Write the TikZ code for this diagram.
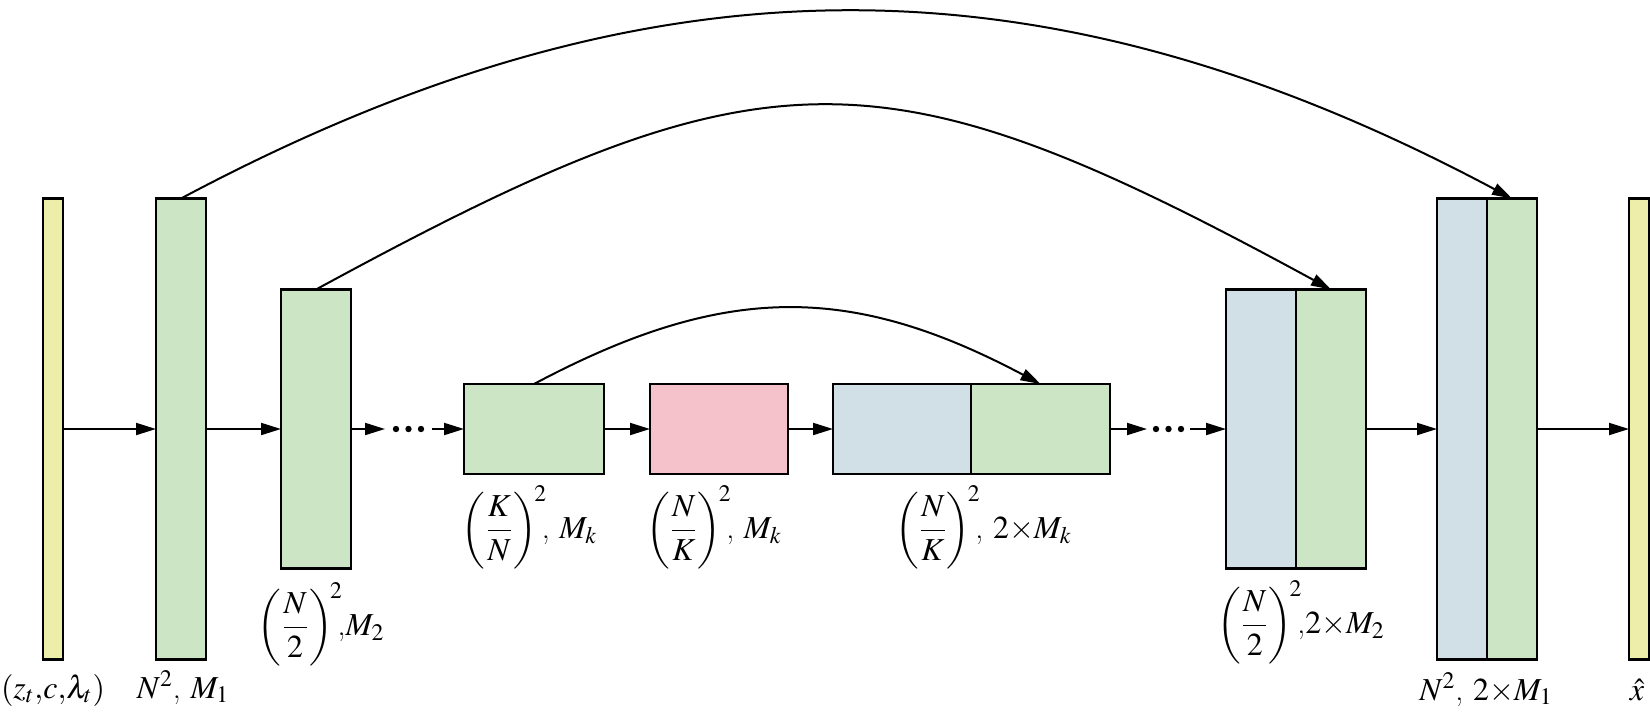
\documentclass[tikz,border=0pt]{standalone}
\usepackage{amsmath}
\usepackage{mathptmx}
\usetikzlibrary{arrows.meta}
\definecolor{cyel}{RGB}{236,238,170}
\definecolor{cgrn}{RGB}{203,229,197}
\definecolor{cpnk}{RGB}{245,194,203}
\definecolor{cblu}{RGB}{208,224,230}
\begin{document}
\begin{tikzpicture}[x=0.5pt,y=-0.5pt,
  blk/.style={draw=black, line width=1.35pt, inner sep=0pt, outer sep=0pt, rectangle},
  tall/.style={minimum height=230.5pt},
  mid/.style={minimum height=139.5pt},
  low/.style={minimum height=45pt},
  arr/.style={line width=1pt, -{Triangle[length=10pt,width=6pt]}},
  lbl/.style={font=\fontsize{16}{19}\selectfont, inner sep=0pt},
  dotc/.style={circle, fill=black, inner sep=0pt, minimum size=3.2pt}]
\useasboundingbox (0,0) rectangle (1650,724);
% blocks
\node[blk, tall, fill=cyel, minimum width=10pt] (in) at (53,429) {};
\node[blk, tall, fill=cgrn, minimum width=25pt] (g1) at (181,429) {};
\node[blk, mid, fill=cgrn, minimum width=35pt] (g2) at (316,429) {};
\node[blk, low, fill=cgrn, minimum width=70pt] (gk) at (534,429) {};
\node[blk, low, fill=cpnk, minimum width=69pt] (pk) at (719,429) {};
\node[blk, low, fill=cblu, minimum width=69pt] (wb) at (902,429) {};
\node[blk, low, fill=cgrn, minimum width=69.5pt] (wg) at (1040.5,429) {};
\node[blk, mid, fill=cblu, minimum width=35pt] (mb) at (1261,429) {};
\node[blk, mid, fill=cgrn, minimum width=35pt] (mg) at (1331,429) {};
\node[blk, tall, fill=cblu, minimum width=25pt] (bb) at (1462,429) {};
\node[blk, tall, fill=cgrn, minimum width=25pt] (bg) at (1512,429) {};
\node[blk, tall, fill=cyel, minimum width=10pt] (out) at (1639,429) {};
% straight arrows
\draw[arr] (in) -- (g1);
\draw[arr] (g1) -- (g2);
\coordinate (l1) at (385,429);
\coordinate (l2) at (432,429);
\draw[arr] (g2) -- (l1);
\node[dotc] (d1) at (396,429) {};
\node[dotc] (d2) at (408.5,429) {};
\node[dotc] (d3) at (421,429) {};
\draw[arr] (l2) -- (gk);
\draw[arr] (gk) -- (pk);
\draw[arr] (pk) -- (wb);
\coordinate (r1) at (1147,429);
\coordinate (r2) at (1190,429);
\draw[arr] (wg) -- (r1);
\node[dotc] (e1) at (1156,429) {};
\node[dotc] (e2) at (1168.5,429) {};
\node[dotc] (e3) at (1181,429) {};
\draw[arr] (r2) -- (mb);
\draw[arr] (mg) -- (bb);
\draw[arr] (bg) -- (out);
% skip connections
\draw[arr] (g1.north) .. controls (649,-51) and (1044,-51) .. (bg.north);
\draw[arr] (g2.north) .. controls (767,44) and (880,44) .. (mg.north);
\draw[arr] (gk.north) .. controls (724,283) and (850,283) .. (wg.north);
% labels
\node[lbl, anchor=base] (Lin) at (53,698) {$(z_t{,}c{,}\lambda_t)$};
\node[lbl, anchor=base] (L1) at (183,698) {$N^2$, $M_1$};
\node[lbl, anchor=north] (L2) at (321,582) {$\left(\dfrac{N}{2}\right)^{\!2}$\!,$M_2$};
\node[lbl, anchor=north] (Lk) at (529.5,485) {$\left(\dfrac{K}{N}\right)^{\!2}$\!, $M_k$};
\node[lbl, anchor=north] (Lp) at (714,485) {$\left(\dfrac{N}{K}\right)^{\!2}$\!, $M_k$};
\node[lbl, anchor=north] (Lw) at (983.5,485) {$\left(\dfrac{N}{K}\right)^{\!2}$\!, $2{\times}M_k$};
\node[lbl, anchor=north] (Lm) at (1301,580) {$\left(\dfrac{N}{2}\right)^{\!2}$\!,$2{\times}M_2$};
\node[lbl, anchor=base] (Lb) at (1486,700) {$N^2$, $2{\times}M_1$};
\node[lbl, anchor=base] (Lo) at (1637,700) {$\hat{x}$};
\end{tikzpicture}
\end{document}
